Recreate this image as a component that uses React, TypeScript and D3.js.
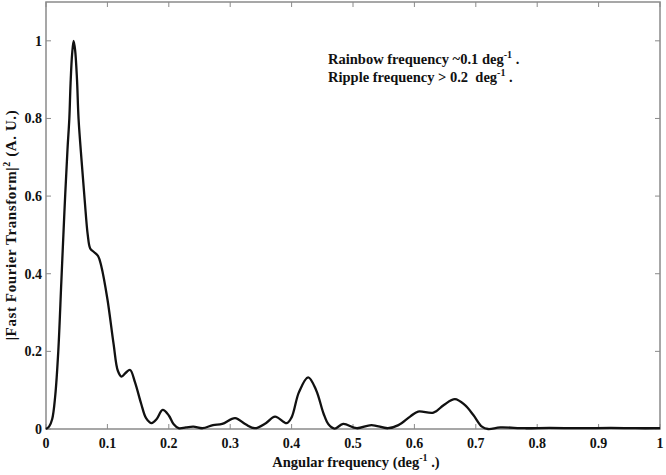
import React from "react";
import * as d3 from "d3";

const freq = [0, 0.005, 0.01, 0.015, 0.02, 0.025, 0.03, 0.035, 0.038, 0.04, 0.0425, 0.045, 0.0475, 0.0505, 0.053, 0.058, 0.063, 0.068, 0.072, 0.078, 0.085, 0.09, 0.1, 0.11, 0.117, 0.123, 0.13, 0.137, 0.145, 0.155, 0.163, 0.172, 0.18, 0.19, 0.2, 0.208, 0.216, 0.228, 0.24, 0.255, 0.272, 0.287, 0.308, 0.325, 0.34, 0.358, 0.373, 0.392, 0.4, 0.412, 0.427, 0.44, 0.452, 0.46, 0.47, 0.484, 0.506, 0.53, 0.557, 0.574, 0.593, 0.606, 0.631, 0.648, 0.666, 0.682, 0.696, 0.71, 0.72, 0.74, 0.78, 0.82, 0.87, 0.92, 0.96, 1.0];
const power = [0, 0.006, 0.025, 0.085, 0.2, 0.38, 0.56, 0.72, 0.8, 0.89, 0.965, 1.0, 0.975, 0.9, 0.8, 0.69, 0.59, 0.5, 0.465, 0.456, 0.445, 0.42, 0.335, 0.22, 0.15, 0.135, 0.145, 0.152, 0.12, 0.065, 0.028, 0.015, 0.025, 0.049, 0.035, 0.012, 0.002, 0.004, 0.006, 0.002, 0.01, 0.013, 0.028, 0.012, 0.002, 0.015, 0.032, 0.015, 0.03, 0.095, 0.133, 0.1, 0.04, 0.012, 0.001, 0.013, 0.002, 0.01, 0.002, 0.01, 0.032, 0.045, 0.042, 0.062, 0.077, 0.062, 0.036, 0.006, 0.0, 0.004, 0.002, 0.003, 0.002, 0.003, 0.002, 0.002];

const xTicks = [0, 0.1, 0.2, 0.3, 0.4, 0.5, 0.6, 0.7, 0.8, 0.9, 1];
const yTicks = [0, 0.2, 0.4, 0.6, 0.8, 1];
const xTickLabels = ["0", "0.1", "0.2", "0.3", "0.4", "0.5", "0.6", "0.7", "0.8", "0.9", "1"];
const yTickLabels = ["0", "0.2", "0.4", "0.6", "0.8", "1"];

const W = 666;
const H = 475;
const L = 46, R = 660, T = 2, B = 429;
const font = "'Liberation Serif', 'Times New Roman', serif";

export default function App() {
  const x = d3.scaleLinear().domain([0, 1]).range([L, R]);
  const y = d3.scaleLinear().domain([0, 1.1]).range([B, T]);
  const pts: [number, number][] = freq.map((f, i) => [f, power[i]]);
  const line = d3
    .line<[number, number]>()
    .x((d) => x(d[0]))
    .y((d) => Math.min(B, y(d[1])))
    .curve(d3.curveCatmullRom.alpha(0.5));
  const axisColor = "#8a8a8a";
  const tl = 5;
  const fs = 14;
  const sup = 10;
  return (
    <svg width={W} height={H} style={{ position: "absolute", left: 0, top: 0, background: "#fff" }}>
      <rect x={L} y={T} width={R - L} height={B - T} fill="none" stroke={axisColor} strokeWidth={1.5} />
      {xTicks.map((t, i) => (
        <g key={"x" + i}>
          <line x1={x(t)} x2={x(t)} y1={B} y2={B - tl} stroke={axisColor} strokeWidth={1} />
          <line x1={x(t)} x2={x(t)} y1={T} y2={T + tl} stroke={axisColor} strokeWidth={1} />
          <text x={x(t)} y={448} textAnchor="middle" fontFamily={font} fontWeight="bold" fontSize={fs} fill="#111">
            {xTickLabels[i]}
          </text>
        </g>
      ))}
      {yTicks.map((t, i) => (
        <g key={"y" + i}>
          <line x1={L} x2={L + tl} y1={y(t)} y2={y(t)} stroke={axisColor} strokeWidth={1} />
          <line x1={R} x2={R - tl} y1={y(t)} y2={y(t)} stroke={axisColor} strokeWidth={1} />
          <text x={42} y={y(t) + 5} textAnchor="end" fontFamily={font} fontWeight="bold" fontSize={fs} fill="#111">
            {yTickLabels[i]}
          </text>
        </g>
      ))}
      <path d={line(pts) || ""} fill="none" stroke="#111" strokeWidth={2.3} strokeLinejoin="round" />
      <text x={356} y={467} textAnchor="middle" fontFamily={font} fontWeight="bold" fontSize={14.5} fill="#111">
        Angular frequency (deg<tspan dy={-6} fontSize={sup}>-1</tspan><tspan dy={6}> .)</tspan>
      </text>
      <text transform={`translate(16, 225) rotate(-90)`} textAnchor="middle" fontFamily={font} fontWeight="bold" fontSize={15} letterSpacing={0.6} fill="#111">
        |Fast Fourier Transform|<tspan dy={-6} fontSize={sup}>2</tspan><tspan dy={6}> (A. U.)</tspan>
      </text>
      <text x={328} y={64} fontFamily={font} fontWeight="bold" fontSize={14.5} fill="#111">
        Rainbow frequency ~0.1 deg<tspan dy={-6} fontSize={sup}>-1</tspan><tspan dy={6}> .</tspan>
      </text>
      <text x={328} y={82} fontFamily={font} fontWeight="bold" fontSize={14.5} fill="#111">
        Ripple frequency &gt; 0.2{"\u00a0\u00a0"}deg<tspan dy={-6} fontSize={sup}>-1</tspan><tspan dy={6}> .</tspan>
      </text>
    </svg>
  );
}
